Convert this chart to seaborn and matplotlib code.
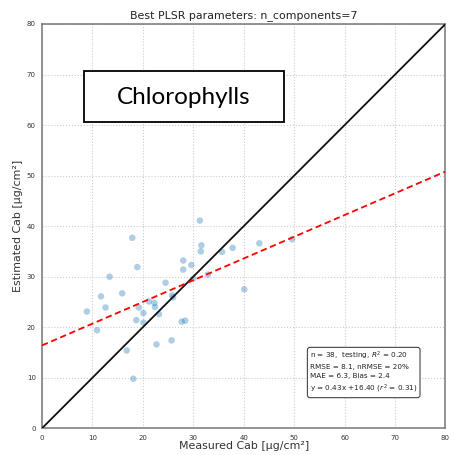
import numpy as np
import pandas as pd
import matplotlib
matplotlib.use("Agg")
import matplotlib.pyplot as plt
from matplotlib.patches import Rectangle
import seaborn as sns

measured = [8.9, 10.9, 11.7, 12.6, 13.4, 15.9, 16.8, 17.9, 18.1, 18.9, 18.7, 19.2, 20.1, 20.1,
            21.2, 22.3, 22.4, 23.2, 22.7, 24.5, 25.8, 26.0, 25.7, 27.7, 28.4, 28.0, 28.0, 29.6,
            30.0, 31.3, 31.6, 31.5, 32.9, 35.7, 37.8, 40.1, 43.1, 49.6]
estimated = [23.1, 19.4, 26.1, 23.9, 30.0, 26.7, 15.4, 37.7, 9.8, 31.9, 21.4, 23.9, 22.8, 20.9,
             25.1, 24.8, 24.0, 22.6, 16.6, 28.8, 26.3, 25.9, 17.4, 21.1, 21.3, 33.2, 31.4, 32.3,
             29.6, 41.1, 36.2, 35.0, 30.4, 34.9, 35.7, 27.5, 36.6, 37.4]
axis_range = [0, 80]
ticks = [0, 10, 20, 30, 40, 50, 60, 70, 80]
slope, intercept = 0.43, 16.40
title = "Best PLSR parameters: n_components=7"
xlabel = "Measured Cab [μg/cm²]"
ylabel = "Estimated Cab [μg/cm²]"
stats_text = ("n = 38,  testing, $R^2$ = 0.20\nRMSE = 8.1, nRMSE = 20%\n"
              "MAE = 6.3, Bias = 2.4\ny = 0.43x +16.40 ($r^2$ = 0.31)")
label = "Chlorophylls"

sns.set_style("white")
plt.rcParams['font.family'] = ['DejaVu Sans']

fig = plt.figure(figsize=(4.51, 4.55), dpi=100)
ax = fig.add_axes([0.0931, 0.0587, 0.8947, 0.8886])

df = pd.DataFrame({"measured": measured, "estimated": estimated})
sns.scatterplot(data=df, x="measured", y="estimated", ax=ax, color="#1f77b4",
                alpha=0.36, s=22, edgecolor="none", zorder=3)

one = pd.DataFrame({"x": axis_range, "y": axis_range})
sns.lineplot(data=one, x="x", y="y", ax=ax, color="#111111", lw=1.3, zorder=4)
fx = np.array(axis_range, dtype=float)
fit = pd.DataFrame({"x": fx, "y": slope * fx + intercept})
sns.lineplot(data=fit, x="x", y="y", ax=ax, color="red", lw=1.3, ls=(0, (3.5, 2)), zorder=4)

ax.set_xlim(axis_range)
ax.set_ylim(axis_range)
ax.set_xticks(ticks)
ax.set_yticks(ticks)
ax.tick_params(labelsize=5, length=3, width=0.8, color="#666666", labelcolor="#333333", pad=1.5)
ax.grid(True, color="#cccccc", ls=":", lw=0.8)
for s in ax.spines.values():
    s.set_color("#777777")
    s.set_linewidth(1.1)
ax.set_title(title, fontsize=7.9, pad=4, color="#222222")
ax.set_xlabel(xlabel, fontsize=7.9, labelpad=0.5, color="#333333")
ax.set_ylabel(ylabel, fontsize=7.9, labelpad=3, color="#333333")

ax.text(0.664, 0.082, stats_text, transform=ax.transAxes, fontsize=5.2, va="bottom", ha="left",
        color="#222222", linespacing=1.5,
        bbox=dict(boxstyle="round,pad=0.35", fc="white", ec="#444444", lw=0.8), zorder=6)

fig.add_artist(Rectangle((84 / 451, 1 - 122 / 455), 200 / 451, 51 / 455, transform=fig.transFigure,
                         fc="white", ec="black", lw=1.3, zorder=10))
fig.text(184 / 451, 1 - 97 / 455, label, fontsize=17.5, ha="center", va="center", color="black",
         family=["Lato", "DejaVu Sans"], zorder=11)

fig.savefig("out.png", dpi=100)
